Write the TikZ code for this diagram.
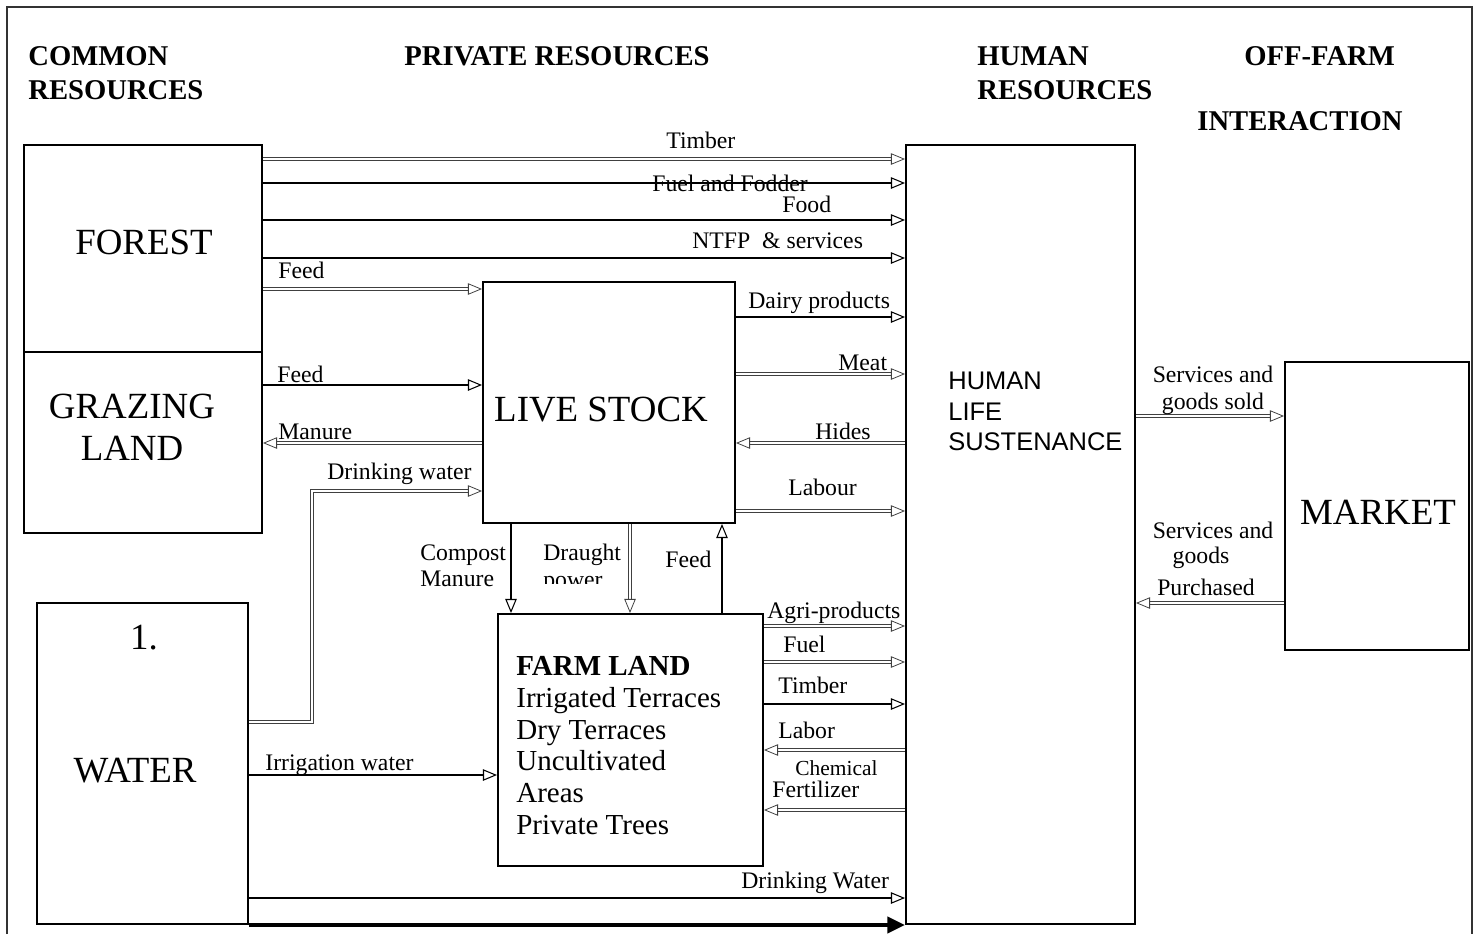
\documentclass[tikz,border=0pt]{standalone}
\usepackage{fontspec}
\setmainfont{Liberation Serif}
\newfontfamily\humanfont{Liberation Sans}
\usetikzlibrary{arrows.meta,fit}

\tikzset{
  box/.style={draw, line width=1.1pt, inner sep=0pt},
  big/.style={font=\fontsize{21}{24}\selectfont, inner sep=0pt},
  head/.style={font=\fontsize{16.3}{19.3}\selectfont\bfseries, inner sep=0pt},
  lbl/.style={font=\fontsize{13.5}{15.3}\selectfont, anchor=base west, inner sep=0pt},
  arr/.style={line width=0.7pt, -{Triangle[open,length=8pt,width=6.5pt,line width=0.6pt]}},
  darr/.style={draw=black!75, line width=0.45pt, double=white, double distance=0.9pt,
    -{Triangle[open,length=8pt,width=6.5pt]}},
}

\begin{document}
\begin{tikzpicture}[x=0.02cm, y=-0.02cm]
  \useasboundingbox (0,0) rectangle (1474,934);
  \draw [black!80, line width=0.6pt] (7,934) -- (7,7) -- (1472,7) -- (1472,934);

  % column headings
  \node [head, anchor=north west, align=left] (h-common) at (28,46) {COMMON\\RESOURCES};
  \node [head, anchor=base west] (h-private) at (404,65) {PRIVATE RESOURCES};
  \node [head, anchor=north west, align=left] (h-human) at (977,46) {HUMAN\\RESOURCES};
  \node [head, anchor=base west] (h-off) at (1244,65) {OFF-FARM};
  \node [head, anchor=base west] (h-inter) at (1197,130) {INTERACTION};

  % boxes
  \node [box, fit={(24,145) (262,352)}] (forest) {};
  \node [box, fit={(24,352) (262,533)}] (grazing) {};
  \node [box, fit={(37,603) (248,924)}] (water) {};
  \node [box, fit={(483,282) (735,523)}] (stock) {};
  \node [box, fit={(498,614) (763,866)}] (farm) {};
  \node [box, fit={(906,145) (1135,924)}] (human) {};
  \node [box, fit={(1285,362) (1469,650)}] (market) {};

  \node [big, anchor=base] (t-forest) at (144,254) {FOREST};
  \node [big, anchor=north, align=center, font=\fontsize{21}{23.8}\selectfont] (t-grazing) at (132,394) {GRAZING\\LAND};
  \node [big, anchor=base] (t-one) at (144,649) {1.};
  \node [big, anchor=base] (t-water) at (135,782) {WATER};
  \node [big, anchor=base] (t-stock) at (601,421) {LIVE STOCK};
  \node [big, anchor=base] (t-market) at (1378,524) {MARKET};
  \node [anchor=north west, align=left, inner sep=0pt, font=\humanfont\fontsize{14.5}{17.3}\selectfont] (t-human) at (948,372) {HUMAN\\LIFE\\SUSTENANCE};
  \node [anchor=north west, align=left, inner sep=0pt, font=\fontsize{16.5}{18.1}\selectfont] (t-farm) at (516,656)
    {\textbf{FARM LAND}\\Irrigated Terraces\\Dry Terraces\\Uncultivated\\Areas\\Private Trees};

  % forest to human
  \draw [darr] (forest.east |- 0,159) -- (human.west |- 0,159);
  \draw [arr] (forest.east |- 0,183) -- (human.west |- 0,183);
  \draw [arr] (forest.east |- 0,220) -- (human.west |- 0,220);
  \draw [arr] (forest.east |- 0,258) -- (human.west |- 0,258);
  \node [lbl] (l-timber) at (666,148) {Timber};
  \node [lbl] (l-fuelfodder) at (652,191) {Fuel and Fodder};
  \node [lbl] (l-food) at (782,212) {Food};
  \node [lbl] (l-ntfp) at (692,248) {NTFP\ \ \& services};

  % common land and livestock
  \draw [darr] (forest.east |- 0,289) -- (stock.west |- 0,289);
  \draw [arr] (grazing.east |- 0,385) -- (stock.west |- 0,385);
  \draw [darr] (stock.west |- 0,443) -- (grazing.east |- 0,443);
  \draw [darr] (water.east |- 0,722) -| (312,491) -- (stock.west |- 0,491);
  \node [lbl] (l-feed1) at (278,278) {Feed};
  \node [lbl] (l-feed2) at (277,382) {Feed};
  \node [lbl] (l-manure) at (278,439) {Manure};
  \node [lbl] (l-drink1) at (327,479) {Drinking water};

  % livestock and human
  \draw [arr] (stock.east |- 0,317) -- (human.west |- 0,317);
  \draw [darr] (stock.east |- 0,374) -- (human.west |- 0,374);
  \draw [darr] (human.west |- 0,443) -- (stock.east |- 0,443);
  \draw [darr] (stock.east |- 0,511) -- (human.west |- 0,511);
  \node [lbl] (l-dairy) at (748,308) {Dairy products};
  \node [lbl] (l-meat) at (838,370) {Meat};
  \node [lbl] (l-hides) at (815,439) {Hides};
  \node [lbl] (l-labour) at (788,495) {Labour};

  % livestock and farm land
  \draw [arr] (stock.south -| 511,0) -- (farm.north -| 511,0);
  \draw [darr] (stock.south -| 630,0) -- (farm.north -| 630,0);
  \draw [arr] (farm.north -| 722,0) -- (stock.south -| 722,0);
  \node [lbl, anchor=north west, align=left] (l-compost) at (420,544) {Compost\\Manure};
  \begin{scope}
    \clip (535,535) rectangle (628,583);
    \node [lbl, anchor=north west, align=left] (l-draught) at (543,544) {Draught\\power};
  \end{scope}
  \node [lbl] (l-feed3) at (665,567) {Feed};

  % farm land and human
  \draw [darr] (farm.east |- 0,626) -- (human.west |- 0,626);
  \draw [darr] (farm.east |- 0,662) -- (human.west |- 0,662);
  \draw [arr] (farm.east |- 0,704) -- (human.west |- 0,704);
  \draw [darr] (human.west |- 0,750) -- (farm.east |- 0,750);
  \draw [darr] (human.west |- 0,810) -- (farm.east |- 0,810);
  \node [lbl] (l-agri) at (767,618) {Agri-products};
  \node [lbl] (l-fuel) at (783,652) {Fuel};
  \node [lbl] (l-timber2) at (778,693) {Timber};
  \node [lbl] (l-labor) at (778,738) {Labor};
  \node [lbl, font=\fontsize{12.2}{13}\selectfont] (l-chem) at (795,775) {Chemical};
  \node [lbl] (l-fert) at (772,797) {Fertilizer};

  % water
  \draw [arr] (water.east |- 0,775) -- (farm.west |- 0,775);
  \draw [arr] (water.east |- 0,898) -- (human.west |- 0,898);
  \draw [line width=2.4pt, -{Triangle[length=10pt,width=9pt]}] (water.south east) -- (human.west |- water.south east);
  \node [lbl] (l-irrig) at (265,770) {Irrigation water};
  \node [lbl] (l-drink2) at (741,888) {Drinking Water};

  % market
  \draw [darr] (human.east |- 0,416) -- (market.west |- 0,416);
  \draw [darr] (market.west |- 0,603) -- (human.east |- 0,603);
  \node [lbl, anchor=north, align=center] (l-sold) at (1213,366) {Services and\\goods sold};
  \node [lbl, anchor=base] (l-bought1) at (1213,538) {Services and};
  \node [lbl, anchor=base] (l-bought2) at (1201,563) {goods};
  \node [lbl, anchor=base] (l-bought3) at (1206,595) {Purchased};
\end{tikzpicture}
\end{document}
